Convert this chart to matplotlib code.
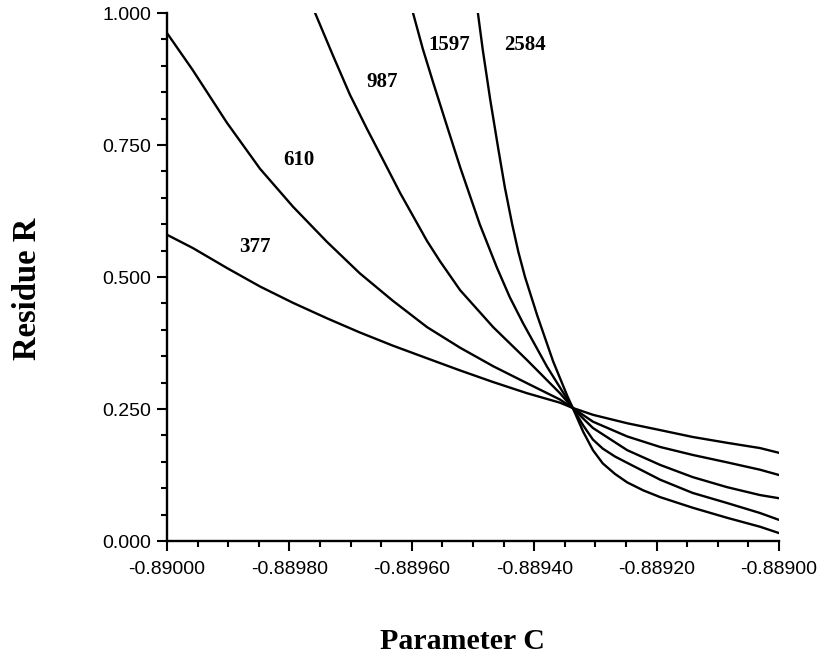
import matplotlib
matplotlib.use("Agg")
import matplotlib.pyplot as plt
from matplotlib.ticker import MultipleLocator, FormatStrFormatter

# ---- data ----
x377 = [-0.89000, -0.889958, -0.889902, -0.889848, -0.889794, -0.889739, -0.889685,
        -0.889631, -0.889575, -0.889521, -0.889467, -0.889412, -0.889358, -0.889337,
        -0.889304, -0.889248, -0.889194, -0.889141, -0.889085, -0.889031, -0.889000]
y377 = [0.580, 0.555, 0.517, 0.482, 0.451, 0.422, 0.395,
        0.370, 0.346, 0.323, 0.301, 0.280, 0.262, 0.252,
        0.239, 0.223, 0.210, 0.197, 0.186, 0.176, 0.167]

x610 = [-0.89000, -0.889958, -0.889902, -0.889848, -0.889794, -0.889739, -0.889685,
        -0.889631, -0.889575, -0.889521, -0.889467, -0.889412, -0.889358, -0.889337,
        -0.889304, -0.889248, -0.889194, -0.889141, -0.889085, -0.889031, -0.889000]
y610 = [0.962, 0.892, 0.792, 0.705, 0.633, 0.567, 0.507,
        0.455, 0.405, 0.366, 0.331, 0.299, 0.268, 0.252,
        0.226, 0.198, 0.178, 0.163, 0.149, 0.135, 0.125]

x987 = [-0.889758, -0.889729, -0.889701, -0.889673, -0.889647, -0.889619, -0.889575,
        -0.889554, -0.889521, -0.889467, -0.889412, -0.889358, -0.889337,
        -0.889320, -0.889304, -0.889248, -0.889194, -0.889141, -0.889085, -0.889031,
        -0.889000]
y987 = [1.000, 0.920, 0.845, 0.780, 0.722, 0.659, 0.568,
        0.530, 0.475, 0.405, 0.343, 0.280, 0.252,
        0.232, 0.214, 0.172, 0.144, 0.121, 0.102, 0.087,
        0.081]

x1597 = [-0.889598, -0.889582, -0.889565, -0.889542, -0.889521, -0.889489, -0.889461,
         -0.889440, -0.889418, -0.889379, -0.889337, -0.889320, -0.889304, -0.889288,
         -0.889268, -0.889248, -0.889194, -0.889141, -0.889085, -0.889031, -0.889000]
y1597 = [1.000, 0.932, 0.868, 0.784, 0.708, 0.600, 0.518,
         0.462, 0.412, 0.330, 0.252, 0.219, 0.192, 0.175,
         0.160, 0.148, 0.116, 0.091, 0.072, 0.053, 0.040]

x2584 = [-0.889492, -0.889484, -0.889472, -0.889459, -0.889448, -0.889436, -0.889426,
         -0.889415, -0.889395, -0.889369, -0.889346, -0.889337, -0.889320, -0.889304,
         -0.889288, -0.889268, -0.889248, -0.889222, -0.889194, -0.889141, -0.889085,
         -0.889031, -0.889000]
y2584 = [1.000, 0.930, 0.837, 0.745, 0.670, 0.600, 0.548,
         0.500, 0.427, 0.340, 0.275, 0.252, 0.207, 0.172,
         0.147, 0.127, 0.111, 0.096, 0.083, 0.063, 0.044,
         0.027, 0.015]

series_names = ["377", "610", "987", "1597", "2584"]
label_x = [-0.889857, -0.889784, -0.889649, -0.889539, -0.889415]
label_y = [0.556, 0.722, 0.870, 0.940, 0.940]

x_ticks = [-0.89000, -0.88980, -0.88960, -0.88940, -0.88920, -0.88900]
y_ticks = [0.0, 0.25, 0.5, 0.75, 1.0]

# ---- figure ----
fig = plt.figure(figsize=(8.19, 6.57), dpi=100)
ax = fig.add_axes([167/819, 1 - 541/657, 612/819, 528/657])

serif = ["Liberation Serif", "DejaVu Serif"]
sans = ["Liberation Sans", "DejaVu Sans"]

for xs, ys in [(x377, y377), (x610, y610), (x987, y987), (x1597, y1597), (x2584, y2584)]:
    ax.plot(xs, ys, color="black", lw=1.7, solid_joinstyle="round",
            solid_capstyle="round")

for name, lx, ly in zip(series_names, label_x, label_y):
    ax.text(lx, ly, name, fontsize=15, fontweight="bold", family=serif,
            ha="center", va="center")

ax.set_xlim(-0.89000, -0.88900)
ax.set_ylim(0.0, 1.0)
ax.set_xticks(x_ticks)
ax.set_yticks(y_ticks)
ax.xaxis.set_minor_locator(MultipleLocator(0.00005))
ax.yaxis.set_minor_locator(MultipleLocator(0.05))
ax.xaxis.set_major_formatter(FormatStrFormatter("%.5f"))
ax.yaxis.set_major_formatter(FormatStrFormatter("%.3f"))

for s in ["top", "right"]:
    ax.spines[s].set_visible(False)
for s in ["left", "bottom"]:
    ax.spines[s].set_linewidth(1.7)

ax.tick_params(which="major", direction="out", length=7.5, width=1.5,
               labelsize=14, pad=4)
ax.tick_params(which="minor", direction="out", length=4.5, width=1.5)
ax.tick_params(axis="x", which="major", pad=7)
for lab in ax.get_xticklabels() + ax.get_yticklabels():
    lab.set_family(sans)

ax.text((462 - 167) / 612, (541 - 649) / 528, "Parameter C", transform=ax.transAxes,
        fontsize=21.5, fontweight="bold", family=serif, ha="center", va="baseline")
ax.text((36 - 167) / 612, (541 - 289) / 528, "Residue R", transform=ax.transAxes,
        fontsize=23.5, fontweight="bold", family=serif, ha="center", va="baseline",
        rotation=90, rotation_mode="anchor")

fig.savefig("out.png", dpi=100)
